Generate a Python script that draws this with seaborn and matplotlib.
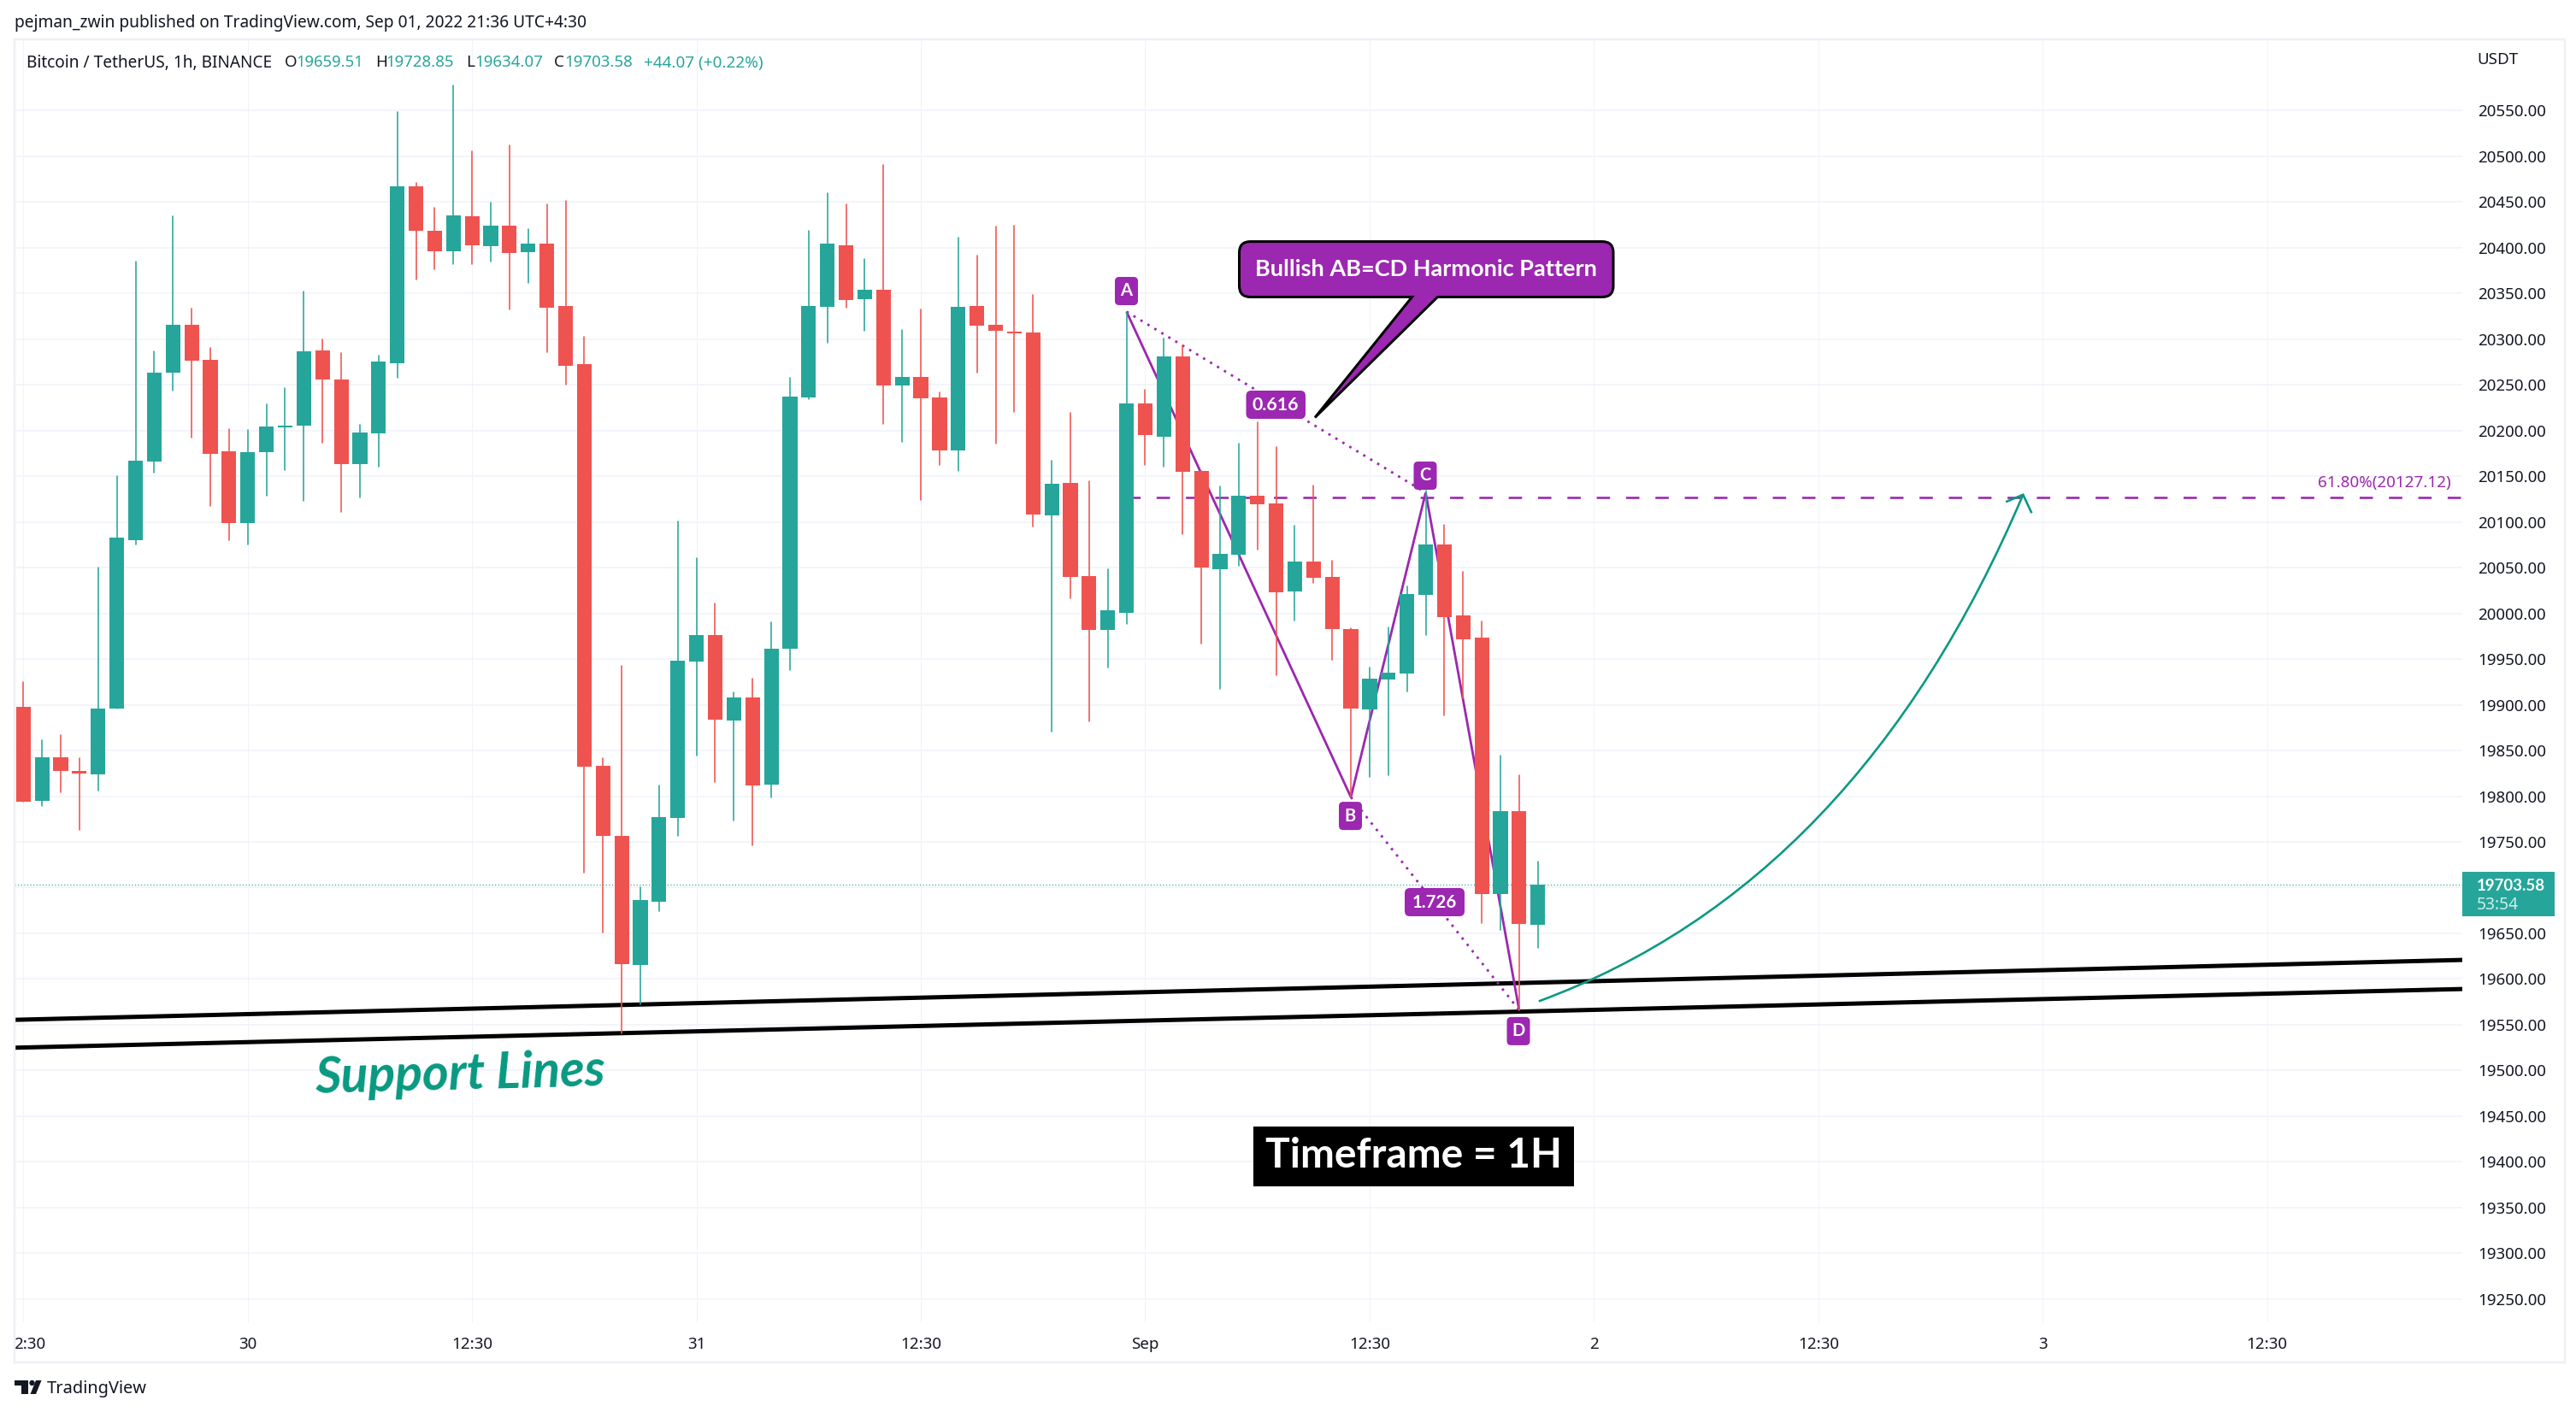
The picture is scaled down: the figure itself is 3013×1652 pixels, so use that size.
import numpy as np
import pandas as pd
import matplotlib
matplotlib.use("Agg")
import matplotlib.pyplot as plt
import seaborn as sns
from matplotlib.patches import Rectangle, PathPatch, FancyBboxPatch, Circle, Polygon
from matplotlib.path import Path
from matplotlib.transforms import Affine2D, ScaledTranslation

# ---------- data (hourly BTC/USDT candles) ----------
opens = [19898,19795,19843,19828,19824,19896,20080,20166,20263,20316,20277,20177,20099,20176,20203,20205,20288,20256,20163,20197,
         20274,20467,20418,20396,20434,20402,20424,20395,20404,20336,20273,19833,19757,19615,19685,19776,19947,19976,19883,19908,
         19813,19961,20236,20335,20403,20344,20354,20249,20259,20236,20178,20336,20316,20308,20307,20107,20143,20041,19982,20001,
         20230,20193,20281,20156,20048,20064,20129,20120,20024,20057,20040,19983,19895,19928,19934,20020,20075,19998,19973,19693,
         19784,19659.51]
highs = [19925,19861,19867,19842,20050,20150,20385,20287,20434,20333,20290,20202,20201,20229,20246,20352,20300,20285,20206,20282,
         20548,20471,20444,20577,20505,20449,20512,20420,20447,20451,20303,19842,19943,19700,19812,20101,20060,20011,19914,19929,
         19990,20258,20418,20460,20447,20388,20490,20310,20332,20242,20411,20391,20423,20424,20348,20167,20219,20145,20048,20330,
         20245,20301,20293,20156,20139,20186,20209,20182,20096,20140,20058,19984,19941,19985,20030,20134,20097,20045,19991,19844,
         19823,19728.85]
lows = [19794,19789,19804,19763,19806,19896,20075,20154,20244,20192,20117,20080,20075,20129,20157,20123,20187,20111,20127,20160,
        20258,20365,20376,20382,20382,20385,20332,20361,20286,20250,19716,19651,19541,19572,19674,19757,19844,19815,19773,19746,
        19799,19938,20234,20296,20334,20309,20207,20188,20124,20162,20156,20263,20186,20220,20095,19871,20016,19882,19941,19988,
        20162,20160,20087,19967,19917,20052,20070,19932,19992,20033,19949,19800,19821,19823,19915,19976,19888,19907,19661,19654,
        19566,19634.07]
closes = [19794,19843,19828,19825,19896,20083,20167,20263,20316,20276,20174,20099,20176,20204,20205,20287,20256,20163,20198,20275,
          20467,20418,20396,20435,20403,20424,20394,20404,20334,20271,19832,19757,19616,19686,19777,19948,19976,19884,19908,19812,
          19961,20237,20336,20404,20343,20354,20249,20259,20235,20178,20335,20315,20309,20306,20108,20142,20040,19982,20003,20230,
          20195,20281,20155,20050,20065,20129,20119,20023,20057,20039,19983,19896,19929,19935,20021,20075,19996,19972,19693,19784,
          19660,19703.58]

x_tick_pos = [0, 12, 24, 36, 48, 60, 72, 84, 96, 108, 120]
x_tick_labels = ["2:30", "30", "12:30", "31", "12:30", "Sep", "12:30", "2", "12:30", "3", "12:30"]
y_tick_vals = list(range(19250, 20551, 50))

pattern_t = [59, 71, 75, 80]            # A, B, C, D
pattern_p = [20330, 19799, 20132, 19566]
fib_level = 20127.12
last_price = 19703.58
support1_t, support1_p = [-0.47, 130.44], [19555.4, 19620.9]
support2_t, support2_p = [-0.47, 130.44], [19524.9, 19589.1]
arrow_t = [81.05, 98.1, 106.95]         # start, curve control, tip
arrow_p = [19575.7, 19704.1, 20129.8]
head_t = [106.03, 106.95, 107.41]
head_p = [20121.9, 20129.8, 20109.7]

GREEN, RED, PURPLE, TEAL = "#26a69a", "#ef5350", "#9c27b0", "#089981"
INK = "#131722"
GRID = "#f0f3fa"
BORDER = "#efeff5"
BOLD_FONT = ["Lato", "DejaVu Sans"]

sns.set_theme(style="white")
plt.rcParams["font.family"] = ["Noto Sans", "DejaVu Sans"]

W, H = 3013, 1652
fig = plt.figure(figsize=(W / 100, H / 100), dpi=100, facecolor="white")
PX = Affine2D().scale(1, -1).translate(0, H)   # reference pixels -> display
L, R, TOP, BOT = 17, 2880, 45.5, 1547
ax = fig.add_axes([L / W, 1 - BOT / H, (R - L) / W, (BOT - TOP) / H])
pw = lambda px: px * 0.72

ax.set_xlim(-0.471, 130.44)
ax.set_ylim(19224.6, 20628.35)
for s in ax.spines.values():
    s.set_visible(False)
ax.set_axisbelow(True)
ax.grid(True, axis="y", color=GRID, lw=pw(1.6))
ax.grid(True, axis="x", color=GRID, lw=pw(1.0))

ax.yaxis.tick_right()
ax.set_yticks(y_tick_vals)
ax.set_yticklabels(["" if v == 19700 else f"{v:.2f}" for v in y_tick_vals])
ax.set_xticks(x_tick_pos)
ax.set_xticklabels(x_tick_labels)
ax.tick_params(axis="y", length=0, pad=pw(18), labelsize=13.5, labelcolor=INK)
ax.tick_params(axis="x", length=0, pad=pw(17), labelsize=13.5, labelcolor=INK)
first = ax.get_xticklabels()[0]
first.set_transform(first.get_transform() + ScaledTranslation(7 / 100, 0, fig.dpi_scale_trans))


def pl(xs, ys, color, lw, ls="-", z=2):
    sns.lineplot(x=xs, y=ys, sort=False, estimator=None, errorbar=None, color=color,
                 linewidth=pw(lw), ax=ax, legend=False, zorder=z)
    line = ax.lines[-1]
    line.set_linestyle(ls)
    line.set_solid_capstyle("butt")
    line.set_dash_capstyle("butt")
    line.set_solid_joinstyle("miter")
    return line


# annotation lines sit under the candles
pl([-0.471, 130.44], [last_price, last_price], GREEN, 1.2, (0, (1, 2)), z=1.5)
pl(support1_t, support1_p, "black", 5)
pl(support2_t, support2_p, "black", 5)
pl(pattern_t, pattern_p, PURPLE, 2.8)
pl([pattern_t[0], pattern_t[2]], [pattern_p[0], pattern_p[2]], PURPLE, 2.8, (0, (1, 2.4)))
pl([pattern_t[1], pattern_t[3]], [pattern_p[1], pattern_p[3]], PURPLE, 2.8, (0, (1, 2.4)))
pl([pattern_t[0], 130.44], [fib_level, fib_level], PURPLE, 2.6, (0, (6, 7.2)))
ax.add_patch(PathPatch(Path(list(zip(arrow_t, arrow_p)), [Path.MOVETO, Path.CURVE3, Path.CURVE3]),
                       fill=False, ec=TEAL, lw=pw(2.6), capstyle="butt", zorder=2))
pl(head_t, head_p, TEAL, 2.6)

# candles
t = np.arange(len(opens))
o, h, l, c = map(np.array, (opens, highs, lows, closes))
up = c >= o
wicks = pd.DataFrame({
    "t": np.r_[t, t], "price": np.r_[h, l], "id": np.r_[t, t],
    "dir": np.r_[up, up],
})
sns.lineplot(data=wicks, x="t", y="price", units="id", hue="dir", palette={True: GREEN, False: RED},
             estimator=None, errorbar=None, sort=False, linewidth=pw(1.6), legend=False, ax=ax, zorder=3)
ax.bar(t, np.abs(c - o), bottom=np.minimum(o, c), width=0.785, color=np.where(up, GREEN, RED),
       linewidth=0, zorder=4)
ax.set_xlabel("")
ax.set_ylabel("")
ax.set_xlim(-0.471, 130.44)
ax.set_ylim(19224.6, 20628.35)

# ---------- overlays placed in reference pixel space ----------
rend = fig.canvas.get_renderer()


def T(x, y, s, w=None, size=13.5, color=INK, ha="left", weight="normal", **kw):
    if weight != "normal":
        kw.setdefault("family", BOLD_FONT)
    txt = fig.text(x, y, s, transform=PX, ha=ha, va="center", fontsize=size, color=color,
                   fontweight=weight, zorder=10, **kw)
    if w is not None:
        txt.set_fontsize(size * w / txt.get_window_extent(rend).width)
    return txt


def rbox(x0, y0, x1, y1, r, color, z=8):
    fig.add_artist(FancyBboxPatch((x0, y0), x1 - x0, y1 - y0, boxstyle=f"round,pad=0,rounding_size={r}",
                                  transform=PX, fc=color, ec="none", lw=0, zorder=z))


# outer border
fig.add_artist(Rectangle((L, TOP), 3000 - L, 1594 - TOP, transform=PX, fill=False, ec=BORDER, lw=pw(2.5), zorder=6))

# header, legend, footer
T(17, 27, "pejman_zwin published on TradingView.com, Sep 01, 2022 21:36 UTC+4:30", w=670)
T(30.6, 73.5, "Bitcoin / TetherUS, 1h, BINANCE", w=288)
for x, lab, xv, val, wv in [(333, "O", 346, "19659.51", 79), (439, "H", 451.5, "19728.85", 80),
                            (545, "L", 555.5, "19634.07", 80), (648, "C", 660.7, "19703.58", 80)]:
    T(x, 73.5, lab)
    T(xv, 73.5, val, w=wv, color=GREEN)
T(752.6, 73.5, "+44.07 (+0.22%)", w=140, color=GREEN)
T(2897, 70, "USDT")
T(55, 1625, "TradingView", w=117)
fig.add_artist(Polygon([(17, 1615), (33, 1615), (33, 1631), (25, 1631), (25, 1621), (17, 1621)],
                       closed=True, transform=PX, fc=INK, ec="none", zorder=9))
fig.add_artist(Circle((37.5, 1618), 3.2, transform=PX, fc=INK, ec="none", zorder=9))
fig.add_artist(Polygon([(35.5, 1631), (42, 1615), (48.5, 1615), (42, 1631)],
                       closed=True, transform=PX, fc=INK, ec="none", zorder=9))

# last price tag
fig.add_artist(Rectangle((2880, 1020), 108, 52, transform=PX, fc=GREEN, ec="none", zorder=8))
T(2897, 1036, "19703.58", w=80, color="white", weight="bold")
T(2897, 1059, "53:54", w=49, color="#cdeeea")

# fib text
T(2710.7, 565, "61.80%(20127.12)", w=156, color=PURPLE)

# pattern point labels
for cx, cy, s in [(1317.5, 340.5, "A"), (1579.5, 954.6, "B"), (1667, 556.5, "C"), (1776, 1206.4, "D")]:
    rbox(cx - 13.5, cy - 16.5, cx + 13.5, cy + 16.5, 5, PURPLE)
    T(cx, cy, s, ha="center", color="white", weight="bold", size=14.5)
rbox(1457.5, 457, 1527, 490, 6, PURPLE)
T(1492, 473.5, "0.616", w=54.5, ha="center", color="white", weight="bold")
rbox(1643, 1039, 1713, 1072, 6, PURPLE)
T(1678, 1055.5, "1.726", w=52, ha="center", color="white", weight="bold")

# callout
x0, x1, y0, y1, r = 1449.5, 1887, 282.6, 347.5, 13
verts = [(x0 + r, y0), (x1 - r, y0), (x1, y0), (x1, y0 + r), (x1, y1 - r), (x1, y1), (x1 - r, y1),
         (1681.4, y1), (1538, 488.5), (1651.5, y1), (x0 + r, y1), (x0, y1), (x0, y1 - r),
         (x0, y0 + r), (x0, y0), (x0 + r, y0), (x0 + r, y0)]
codes = [Path.MOVETO, Path.LINETO, Path.CURVE3, Path.CURVE3, Path.LINETO, Path.CURVE3, Path.CURVE3,
         Path.LINETO, Path.LINETO, Path.LINETO, Path.LINETO, Path.CURVE3, Path.CURVE3,
         Path.LINETO, Path.CURVE3, Path.CURVE3, Path.CLOSEPOLY]
fig.add_artist(PathPatch(Path(verts, codes), transform=PX, fc=PURPLE, ec="black", lw=pw(3), zorder=9))
T(1668, 315, "Bullish AB=CD Harmonic Pattern", w=400, ha="center", color="white", weight="bold")

# support lines caption
T(538, 1258, "Support Lines", w=341, ha="center", color=TEAL, weight="bold", style="italic",
  rotation=1.5, rotation_mode="anchor")

# timeframe box
fig.add_artist(Rectangle((1466, 1318), 375, 70, transform=PX, fc="black", ec="none", zorder=8))
T(1653, 1352, "Timeframe = 1H", w=347, ha="center", color="white", weight="bold")

fig.savefig("out.png", dpi=100, facecolor="white")
